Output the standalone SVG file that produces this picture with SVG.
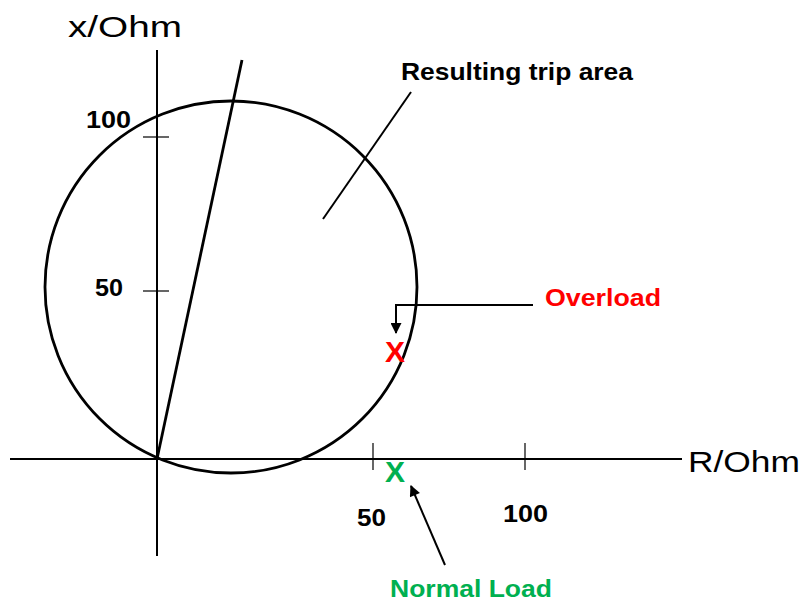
<svg xmlns="http://www.w3.org/2000/svg" width="806" height="602" viewBox="0 0 806 602">
<defs>
<marker id="ah" viewBox="0 0 10 10" refX="9" refY="5" markerWidth="6.5" markerHeight="5.5" orient="auto" markerUnits="strokeWidth">
<path d="M0,0 L10,5 L0,10 z" fill="#000"/>
</marker>
<style>
.ax{stroke:#000;stroke-width:2;fill:none}
.ln{stroke:#000;stroke-width:2.8;fill:none}
.t{font-family:"Liberation Sans",Arial,sans-serif;fill:#000}
.b{font-family:"Liberation Sans",Arial,sans-serif;font-weight:bold;font-size:24px}
</style>
</defs>
<rect width="806" height="602" fill="#fff"/>
<g id="axes">
<line class="ax" x1="157" y1="50" x2="157" y2="556"/>
<line class="ax" x1="10" y1="459" x2="682" y2="459"/>
<line class="ax" x1="143" y1="137" x2="169" y2="137" style="stroke-width:1.2"/>
<line class="ax" x1="143" y1="291" x2="169" y2="291" style="stroke-width:1.2"/>
<line class="ax" x1="373" y1="443" x2="373" y2="470" style="stroke-width:1.2"/>
<line class="ax" x1="525" y1="443" x2="525" y2="470" style="stroke-width:1.2"/>
<text class="t" x="68" y="37" font-size="30" textLength="114" lengthAdjust="spacingAndGlyphs">x/Ohm</text>
<text class="t" x="688" y="472" font-size="30" textLength="112" lengthAdjust="spacingAndGlyphs">R/Ohm</text>
<text class="b" x="86" y="128" textLength="45" lengthAdjust="spacingAndGlyphs">100</text>
<text class="b" x="95" y="296" textLength="28" lengthAdjust="spacingAndGlyphs">50</text>
<text class="b" x="357" y="526" textLength="29" lengthAdjust="spacingAndGlyphs">50</text>
<text class="b" x="503" y="522" textLength="45" lengthAdjust="spacingAndGlyphs">100</text>
</g>
<g id="trip-area">
<circle class="ln" cx="231" cy="287" r="186"/>
<line class="ln" x1="157" y1="459" x2="242" y2="60"/>
<text class="b" x="401" y="80" textLength="232" lengthAdjust="spacingAndGlyphs">Resulting trip area</text>
</g>
<g id="overload">
<text x="385" y="362" font-family="Liberation Sans, Arial, sans-serif" font-weight="bold" font-size="30" fill="#ff0000">X</text>
<text class="b" x="545" y="306" fill="#ff0000" textLength="116" lengthAdjust="spacingAndGlyphs">Overload</text>
</g>
<g id="normal-load">
<text x="385" y="482" font-family="Liberation Sans, Arial, sans-serif" font-weight="bold" font-size="30" fill="#00b050">X</text>
<text class="b" x="390" y="597" fill="#00b050" textLength="162" lengthAdjust="spacingAndGlyphs">Normal Load</text>
</g>
<g id="connectors">
<line class="ax" x1="323" y1="219" x2="411" y2="92"/>
<polyline class="ax" points="533,305 396,305 396,333" marker-end="url(#ah)"/>
<line class="ax" x1="445" y1="565" x2="411" y2="486" marker-end="url(#ah)"/>
</g>
</svg>
